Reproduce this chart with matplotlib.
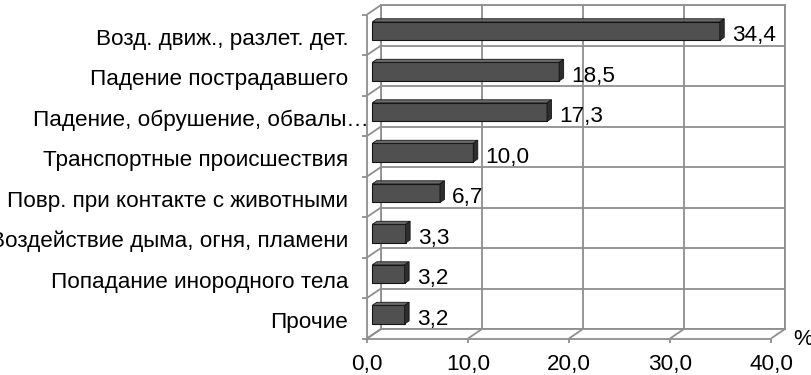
import numpy as np
import matplotlib.pyplot as plt
from matplotlib.patches import Polygon
from matplotlib.transforms import offset_copy

# данные
categories = ['Возд. движ., разлет. дет.', 'Падение пострадавшего',
              'Падение, обрушение, обвалы…', 'Транспортные происшествия',
              'Повр. при контакте с животными', 'Воздействие дыма, огня, пламени',
              'Попадание инородного тела', 'Прочие']
values = [34.4, 18.5, 17.3, 10.0, 6.7, 3.3, 3.2, 3.2]
ticks = [0, 10, 20, 30, 40]

plt.rcParams['font.family'] = ['Liberation Sans', 'DejaVu Sans']
fs = 16.2
grid_c = '#8f8f8f'
lw = 1.3

W, H = 811, 375
fig = plt.figure(figsize=(W / 100, H / 100), dpi=100)

# задняя стенка = обычные оси
ax = fig.add_axes([381 / W, (H - 329) / H, 404 / W, 324 / H])
ax.set_xlim(0, 40)
ax.set_ylim(8, 0)
ax.set_xticks(ticks)
ax.set_yticks(range(9))
ax.tick_params(length=0, labelbottom=False, labelleft=False)
ax.grid(True, color=grid_c, lw=lw)
ax.set_axisbelow(True)
for s in ax.spines.values():
    s.set_color(grid_c)
    s.set_linewidth(lw)

# глубина "3D" в единицах данных
DX = 14 / (404 / 40)
DY = 9.5 / (324 / 8)


def off(px, py):
    # сдвиг в пикселях, py > 0 - вниз
    return offset_copy(ax.transData, fig=fig, x=px, y=-py, units='dots')


line_kw = dict(color=grid_c, lw=lw, clip_on=False, solid_capstyle='butt')

# левая стенка
ax.plot([-DX, -DX], [DY, 8 + DY], **line_kw)
for y in range(9):
    ax.plot([0, -DX], [y, y + DY], **line_kw)
    ax.plot([-DX - 0.5, -DX], [y + DY, y + DY], **line_kw)

# пол
ax.plot([-DX, 40 - DX], [8 + DY, 8 + DY], **line_kw)
for t in ticks:
    ax.plot([t, t - DX], [8, 8 + DY], **line_kw)
    ax.plot([t - DX, t - DX], [8 + DY, 8 + DY + 0.12], **line_kw)
    ax.text(t - DX, 8 + DY, f'{t:.1f}'.replace('.', ','), transform=off(0, 31.5),
            ha='center', va='baseline', fontsize=fs)
ax.text(40, 8, '%', transform=off(8, 16), ha='left', va='baseline', fontsize=fs)

# столбики
c = np.arange(len(values)) + 0.5
h = 0.46
t1, t0 = 0.62, 0.30
yf = c + t1 * DY
ax.barh(yf, values, height=h, left=-t1 * DX, color='#505050',
        edgecolor='#151515', lw=0.8, clip_on=False, zorder=3)

for i, v in enumerate(values):
    x0f, xf = -t1 * DX, v - t1 * DX
    x0b, xb = -t0 * DX, v - t0 * DX
    topf, botf = yf[i] - h / 2, yf[i] + h / 2
    topb, botb = c[i] - h / 2 + t0 * DY, c[i] + h / 2 + t0 * DY
    ax.add_patch(Polygon([(x0f, topf), (xf, topf), (xb, topb), (x0b, topb)],
                         closed=True, fc='#6a6a6a', ec='#151515', lw=0.6,
                         clip_on=False, zorder=3))
    ax.add_patch(Polygon([(xf, topf), (xb, topb), (xb, botb), (xf, botf)],
                         closed=True, fc='#2e2e2e', ec='#151515', lw=0.6,
                         clip_on=False, zorder=3))
    ax.text(v, c[i], f'{v:.1f}'.replace('.', ','), transform=off(3.5, 16),
            ha='left', va='baseline', fontsize=fs)

# подписи категорий
for i, lab in enumerate(categories):
    extra = 20 if lab.endswith('…') else 0
    ax.text(0, c[i], lab, transform=off(-32.7 + extra, 19.5),
            ha='right', va='baseline', fontsize=fs)

fig.savefig('out.png', dpi=100)
